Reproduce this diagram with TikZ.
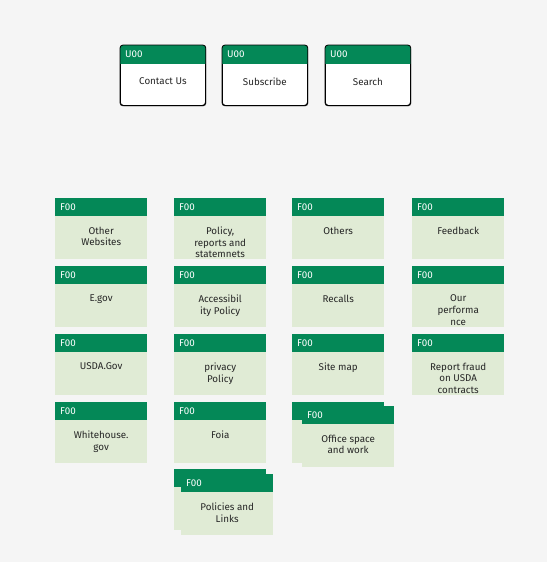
\documentclass[tikz,border=0pt]{standalone}
\usepackage{fontspec}
\setmainfont{Fira Sans}
\usetikzlibrary{positioning, shadows}

\definecolor{hdrgreen}{HTML}{048857}
\definecolor{cardfill}{HTML}{E0EBD5}
\definecolor{pagebg}{HTML}{F5F5F5}

% one F00 card: name, position, text
\newcommand{\fcard}[3]{%
  \node[fbody] (#1) at #2 {};
  \node[fhead] (#1-h) at (#1.north west) {F00};
  \node[ftext] (#1-t) at ([yshift=-28.5pt]#1.north) {#3};
}

\begin{document}
\begin{tikzpicture}[x=1pt, y=-1pt, font=\fontsize{9.8}{11.8}\selectfont]
\tikzstyle{ubox}=[draw=black, line width=0.8pt, rounded corners=3pt, fill=white, minimum width=85pt, minimum height=60pt, inner sep=0pt, anchor=north west, drop shadow={shadow xshift=1pt, shadow yshift=-1pt, opacity=0.4, fill=gray}]
\tikzstyle{fbody}=[fill=cardfill, minimum width=92pt, minimum height=61pt, inner sep=0pt, anchor=north west]
\tikzstyle{fhead}=[fill=hdrgreen, text=white, minimum width=92pt, minimum height=18pt, inner xsep=5pt, inner ysep=0pt, text width=82pt, align=left, anchor=north west]
\tikzstyle{ftext}=[inner sep=0pt, align=center, anchor=north, text=black!85]

\fill[pagebg] (0,0) rectangle (547,562);

% U00 boxes
\foreach \n/\x/\t in {contact/120/Contact Us, subscribe/222/Subscribe, search/325/Search}{
  \node[ubox] (\n) at (\x,45) {};
  \begin{scope}
    \clip[rounded corners=3pt] (\n.north west) rectangle (\n.south east);
    \fill[hdrgreen] (\n.north west) rectangle ([yshift=-19pt]\n.north east);
  \end{scope}
  \draw[rounded corners=3pt, line width=0.8pt] (\n.north west) rectangle (\n.south east);
  \node[anchor=west, text=white, inner sep=0pt] (\n-id) at ([xshift=5pt, yshift=-9.5pt]\n.north west) {U00};
  \node[inner sep=0pt, text=black!85] (\n-t) at ([yshift=-6pt]\n.center) {\t};
}

% F00 cards
\foreach \n/\x/\y/\t in {
  other/55/198/{Other\\Websites},
  policy/174/198/{Policy,\\reports and\\statemnets},
  others/292/198/{Others},
  feedback/412/198/{Feedback},
  egov/55/266/{E.gov},
  access/174/266/{Accessibil\\ity Policy},
  recalls/292/266/{Recalls},
  perf/412/266/{Our\\performa\\nce},
  usda/55/334/{USDA.Gov},
  privacy/174/334/{privacy\\Policy},
  sitemap/292/334/{Site map},
  fraud/412/334/{Report fraud\\on USDA\\contracts},
  white/55/402/{Whitehouse.\\gov},
  foia/174/402/{Foia}}{
  \fcard{\n}{(\x,\y)}{\t}
}

% stacked cards
\node[fbody] (links-b) at (174,469) {};
\node[fhead] (links-bh) at (links-b.north west) {};
\fcard{links}{([xshift=7pt, yshift=-5pt]links-b.north west)}{Policies and\\Links}

\node[fbody] (office-b) at (292,402) {};
\node[fhead] (office-bh) at (office-b.north west) {};
\fcard{office}{([xshift=10pt, yshift=-4pt]office-b.north west)}{Office space\\and work}

\end{tikzpicture}
\end{document}
